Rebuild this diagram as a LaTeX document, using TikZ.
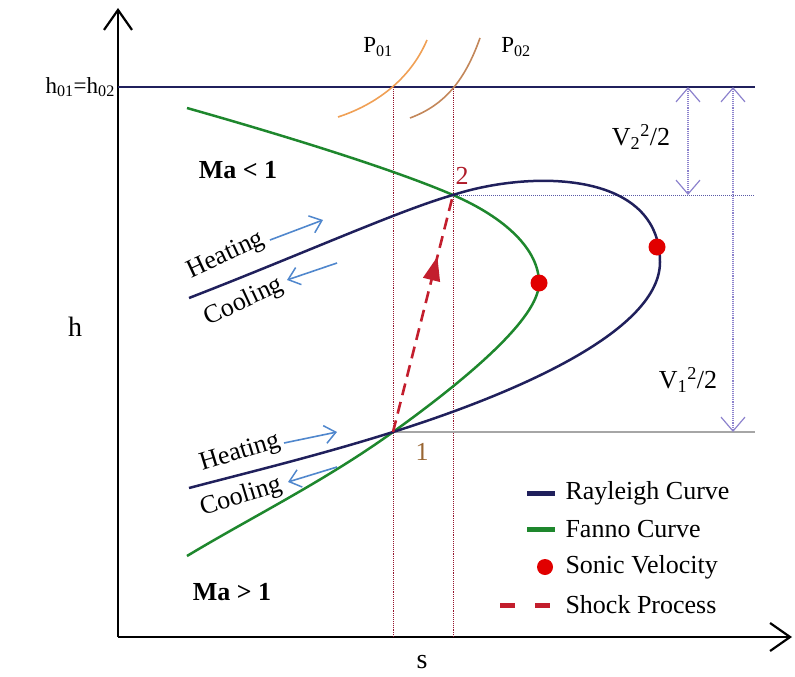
\documentclass[tikz,border=0pt]{standalone}
\usepackage{fontspec}
\setmainfont{Liberation Serif}
\usetikzlibrary{arrows.meta,decorations.markings}
\definecolor{rayleighc}{RGB}{32,32,92}
\definecolor{fannoc}{RGB}{30,135,45}
\definecolor{sonicc}{RGB}{225,0,0}
\definecolor{shockc}{RGB}{195,30,45}
\definecolor{guidec}{RGB}{150,20,45}
\definecolor{veloc}{RGB}{140,130,205}
\definecolor{flowc}{RGB}{80,135,205}
\definecolor{isoa}{RGB}{240,160,85}
\definecolor{isob}{RGB}{195,135,90}
\tikzset{
  barb/.tip={Straight Barb[length=20pt,width=28pt,line width=2.2pt]},
  vbarb/.tip={Straight Barb[length=14pt,width=24pt,line width=1.2pt]},
  axis/.style={line width=2.4pt, -barb},
  rayleigh/.style={rayleighc, line width=2.5pt},
  fanno/.style={fannoc, line width=2.5pt},
  sonic/.style={fill=sonicc},
  guide/.style={guidec, line width=0.9pt, densely dotted},
  level/.style={gray!70!blue, line width=1pt, densely dotted},
  velo/.style={veloc, line width=1.1pt, densely dotted, vbarb-vbarb},
  flow/.style={flowc, line width=1.6pt, -{Straight Barb[length=11pt,width=18pt,line width=1.5pt]}},
  shock/.style={shockc, line width=2.6pt, dash pattern=on 12pt off 7pt,
    postaction={decorate}, decoration={markings, mark=at position 0.74 with {\arrow[solid]{Triangle[length=24pt,width=17pt]}}}},
  lab/.style={inner sep=0pt},
}
\begin{document}
\begin{tikzpicture}[x=1pt, y=-1pt, font=\fontsize{26}{30}\selectfont]
\useasboundingbox (0,0) rectangle (795,677);
% axes
\coordinate (O) at (118,637);
\coordinate (ytop) at (118,8);
\coordinate (xend) at (792,637);
\draw[axis] (O) -- (ytop);
\draw[axis] (O) -- (xend);
\node (hlab) at (75,327) {\fontsize{28}{30}\selectfont h};
\node (slab) at (422,662) {\fontsize{28}{30}\selectfont s};
% stagnation enthalpy
\coordinate (hL) at (118,87);
\coordinate (hR) at (755,87);
\draw[rayleighc, line width=2.4pt] (hL) -- (hR);
\node[anchor=east, inner sep=3pt] (h0) at (hL) {\fontsize{23}{26}\selectfont h\textsubscript{01}=h\textsubscript{02}};
% states
\coordinate (p1) at (393,432);
\coordinate (p2) at (453,195);
\draw[guide] (p1 |- hL) -- (p1 |- O);
\draw[guide] (p2 |- hL) -- (p2 |- O);
\draw[level] (p2) -- (p2 -| hR);
\draw[gray!70, line width=1.3pt] (p1) -- (p1 -| hR);
% isobars
\draw[isoa, line width=1.6pt] (338,117) .. controls (375,105) and (410,80) .. (427,40);
\draw[isob, line width=1.6pt] (410,118) .. controls (445,105) and (465,80) .. (480,38);
\node (P01) at (378,47) {\fontsize{23}{26}\selectfont P\textsubscript{01}};
\node (P02) at (516,47) {\fontsize{23}{26}\selectfont P\textsubscript{02}};
% curves
\coordinate (fnose) at (539,283);
\coordinate (rnose) at (660,262);
\draw[fanno] (187,108) .. controls (300,140) and (400,172) .. (p2)
  .. controls (506,218) and (539,250) .. (fnose)
  .. controls (539,318) and (468,378) .. (p1)
  .. controls (325,481) and (250,518) .. (187,556);
\draw[rayleigh] (189,298) .. controls (300,255) and (400,210) .. (p2)
  .. controls (530,170) and (660,170) .. (rnose)
  .. controls (660,330) and (520,392) .. (p1)
  .. controls (320,455) and (250,472) .. (189,488);
\fill[sonic] (fnose) circle (8.5);
\fill[sonic] (657,247) circle (8.5);
% shock
\draw[shock] (p1) -- (p2);
\node[text=shockc!90!black] (n2) at (462,176) {2};
\node[text=brown!80!black] (n1) at (422,452) {1};
% kinetic energy
\coordinate (v2a) at (688,87); \coordinate (v2b) at (688,195);
\coordinate (v1a) at (733,87); \coordinate (v1b) at (733,432);
\draw[velo] (v2a) -- (v2b);
\draw[velo] (v1a) -- (v1b);
\node (V2) at (641,137) {V\textsubscript{2}\textsuperscript{2}/2};
\node (V1) at (688,380) {V\textsubscript{1}\textsuperscript{2}/2};
% regimes
\node (sub) at (238,170) {\bfseries Ma < 1};
\node (sup) at (232,592) {\bfseries Ma > 1};
% heating and cooling
\node[lab, rotate=25] (hu) at (226,256) {Heating};
\node[lab, rotate=25] (cu) at (244,302) {Cooling};
\node[lab, rotate=17] (hl) at (240,453) {Heating};
\node[lab, rotate=17] (cl) at (241,497) {Cooling};
\coordinate (hu1) at (270,240); \coordinate (hu2) at (323,220);
\coordinate (cu1) at (337,263); \coordinate (cu2) at (287,280);
\coordinate (hl1) at (284,443); \coordinate (hl2) at (337,432);
\coordinate (cl1) at (337,467); \coordinate (cl2) at (288,482);
\draw[flow] (hu1) -- (hu2);
\draw[flow] (cu1) -- (cu2);
\draw[flow] (hl1) -- (hl2);
\draw[flow] (cl1) -- (cl2);
% legend
\draw[rayleighc, line width=5pt] (527,493) -- (555,493);
\draw[fannoc, line width=5pt] (527,529) -- (555,529);
\fill[sonic] (545,567) circle (8);
\draw[shockc, line width=5pt, dash pattern=on 15pt off 20pt] (500,605) -- (555,605);
\node[anchor=west] (lr) at (562,493) {Rayleigh Curve};
\node[anchor=west] (lf) at (562,529) {Fanno Curve};
\node[anchor=west] (ls) at (562,567) {Sonic Velocity};
\node[anchor=west] (lp) at (562,605) {Shock Process};
\end{tikzpicture}
\end{document}
